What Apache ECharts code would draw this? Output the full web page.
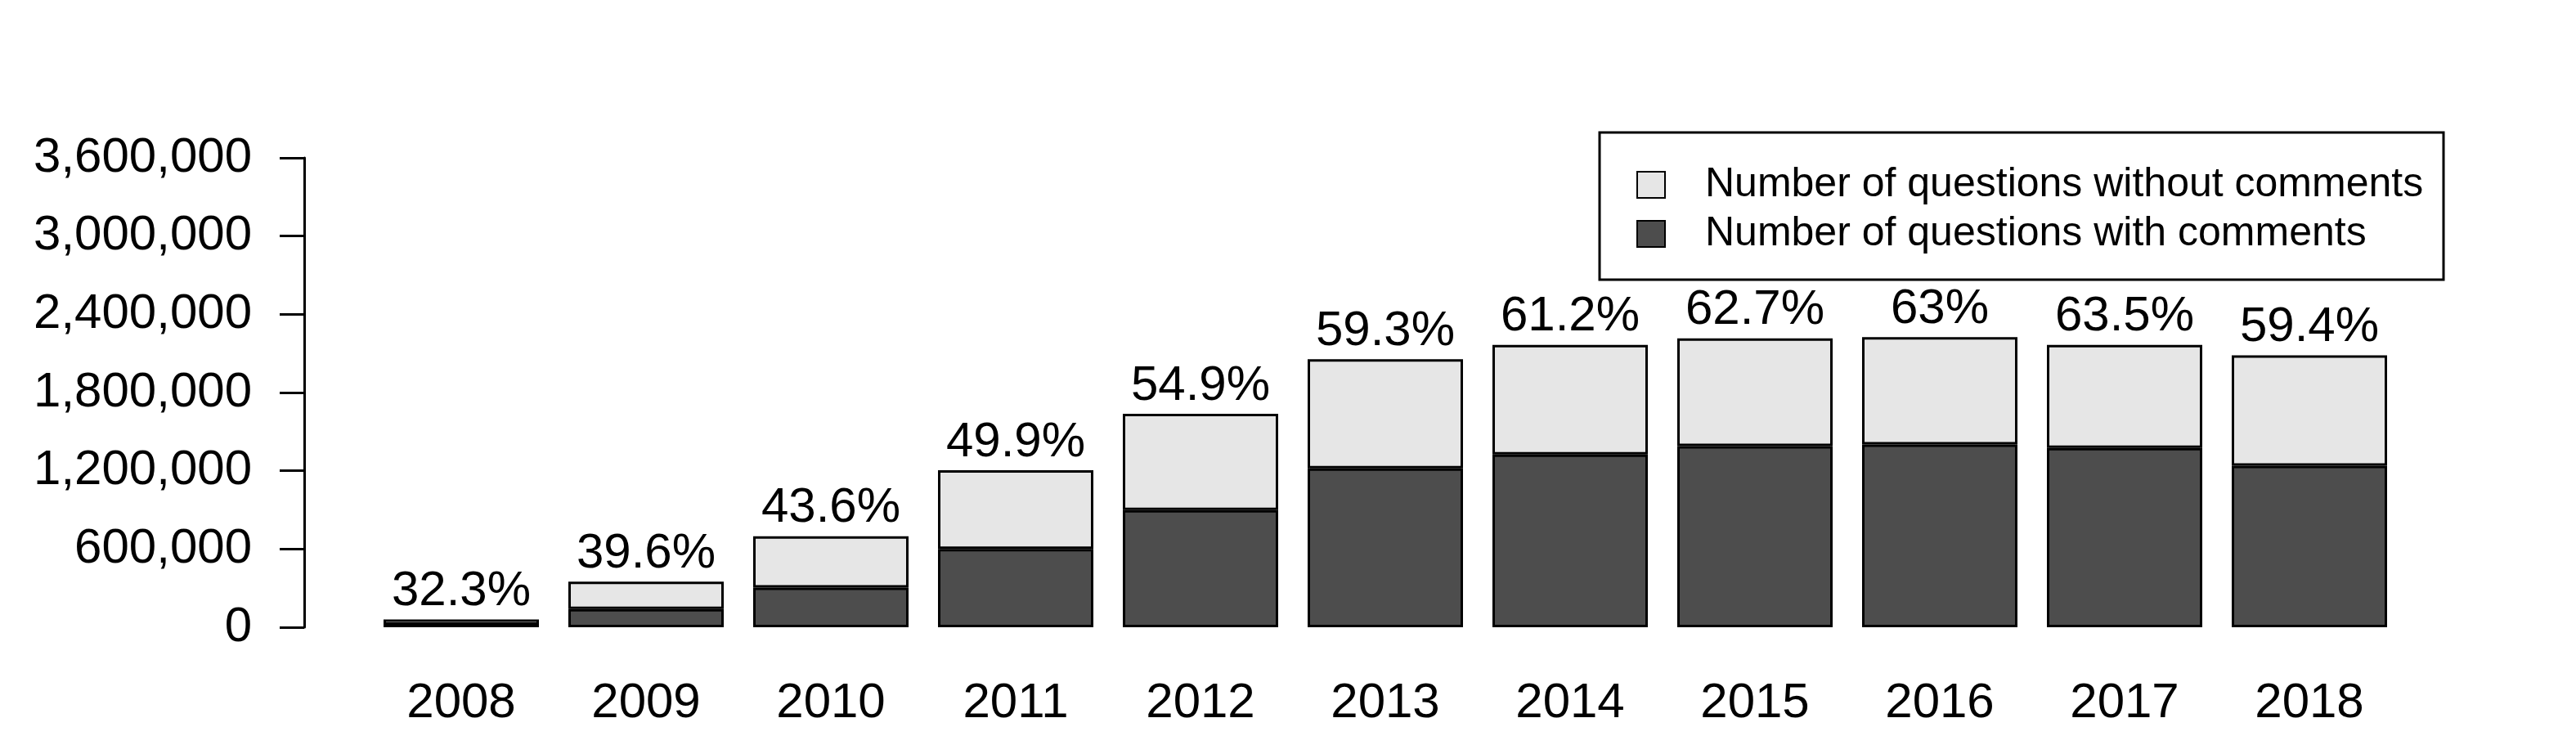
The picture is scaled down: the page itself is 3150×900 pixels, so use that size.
<!DOCTYPE html>
<html>
<head>
<meta charset="utf-8">
<script src="https://cdn.jsdelivr.net/npm/echarts@6/dist/echarts.min.js"></script>
<style>
html,body{margin:0;padding:0;background:#fff;}
#chart{width:3150px;height:900px;}
</style>
</head>
<body>
<div id="chart"></div>
<script>
// ---- data ----
var years = ['2008','2009','2010','2011','2012','2013','2014','2015','2016','2017','2018'];
var withComments = [19400, 139000, 304000, 601000, 899000, 1219000, 1325000, 1389000, 1402000, 1375000, 1239000];
var withoutComments = [40600, 211000, 393000, 603000, 738000, 837000, 840000, 827000, 823000, 790000, 847000];
var pctLabels = ['32.3%','39.6%','43.6%','49.9%','54.9%','59.3%','61.2%','62.7%','63%','63.5%','59.4%'];
var yTickValues = [0, 600000, 1200000, 1800000, 2400000, 3000000, 3600000];
var yTickLabels = ['0','600,000','1,200,000','1,800,000','2,400,000','3,000,000','3,600,000'];
var seriesNames = ['Number of questions without comments', 'Number of questions with comments'];

var FONT = '"Liberation Sans", Arial, Helvetica, sans-serif';
var chart = echarts.init(document.getElementById('chart'), null, {renderer: 'canvas'});

var option = {
  animation: false,
  backgroundColor: '#ffffff',
  textStyle: {fontFamily: FONT, color: '#000'},
  grid: {left: 451, width: 2486, top: 193, bottom: 133, containLabel: false},
  xAxis: {
    type: 'category',
    data: years,
    boundaryGap: true,
    axisLine: {show: false},
    axisTick: {show: false},
    axisLabel: {fontSize: 60, color: '#000', fontFamily: FONT, margin: 63}
  },
  yAxis: {
    type: 'value',
    min: 0,
    max: 3600000,
    interval: 600000,
    offset: 79,
    splitLine: {show: false},
    axisLine: {show: true, lineStyle: {color: '#000', width: 3}},
    axisTick: {show: true, length: 30, lineStyle: {color: '#000', width: 3}},
    axisLabel: {
      fontSize: 60, color: '#000', fontFamily: FONT, margin: 64,
      padding: [5, 0, 0, 0],
      formatter: function (v) {
        var i = yTickValues.indexOf(v);
        return i >= 0 ? yTickLabels[i] : '';
      }
    }
  },
  legend: {
    orient: 'vertical',
    left: 2001,
    top: 201,
    padding: 0,
    itemWidth: 34,
    itemHeight: 32,
    itemGap: 10,
    icon: 'rect',
    data: [seriesNames[0], seriesNames[1]],
    textStyle: {fontSize: 50, lineHeight: 50, color: '#000', fontFamily: FONT, padding: [0, 0, 0, 44]},
    selectedMode: false
  },
  graphic: [{
    type: 'rect',
    shape: {x: 1956, y: 162, width: 1032, height: 180},
    style: {fill: 'none', stroke: '#000', lineWidth: 3},
    z: 10
  }],
  series: [
    {
      name: seriesNames[1],
      type: 'bar',
      stack: 'q',
      barWidth: 190,
      data: withComments,
      itemStyle: {color: '#4d4d4d', borderColor: '#000', borderWidth: 3}
    },
    {
      name: seriesNames[0],
      type: 'bar',
      stack: 'q',
      barWidth: 190,
      data: withoutComments,
      itemStyle: {color: '#e6e6e6', borderColor: '#000', borderWidth: 3},
      label: {
        show: true,
        position: 'top',
        distance: 4,
        fontSize: 60,
        color: '#000',
        fontFamily: FONT,
        formatter: function (p) { return pctLabels[p.dataIndex]; }
      }
    }
  ]
};
chart.setOption(option);
</script>
</body>
</html>
